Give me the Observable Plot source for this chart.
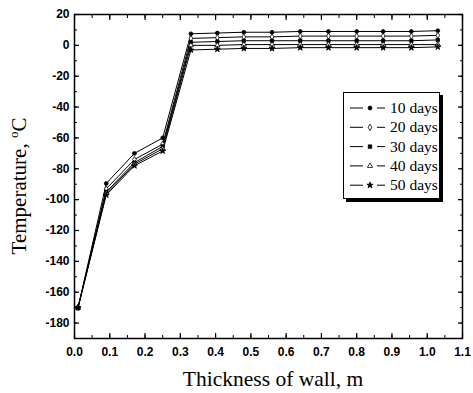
<!DOCTYPE html>
<html>
<head>
<meta charset="utf-8">
<script src="https://cdn.jsdelivr.net/npm/d3@7"></script>
<script src="https://cdn.jsdelivr.net/npm/@observablehq/plot@0.6"></script>
<style>
  html, body { margin: 0; padding: 0; background: #fff; }
  #wrap { position: relative; width: 473px; height: 393px; }
  #legend { position: absolute; left: 343px; top: 92px; width: 97px; height: 107px;
    border: 1px solid #000; background: #fff; box-shadow: 3px 3px 0 #000; box-sizing: border-box; }
  #legend svg { display: block; }
</style>
</head>
<body>
<div id="wrap"></div>
<script>
// Thickness of wall (m)
const thickness = [0.01, 0.09, 0.17, 0.25, 0.33, 0.405, 0.48, 0.56, 0.64, 0.72, 0.80, 0.875, 0.955, 1.03];
// Temperature (°C) per series
const days10 = [-170, -89.5, -70, -60, 7.5, 8, 8.5, 8.5, 9, 9, 9, 9, 9, 9.5];
const days20 = [-170, -93, -74, -64, 4.5, 5, 5.5, 5.5, 6, 6, 6, 6, 6, 6.5];
const days30 = [-170, -95, -76, -65.5, 2, 2.5, 3, 3, 3, 3, 3, 3, 3, 3.5];
const days40 = [-170, -96, -77, -67, 0, 0, 0.5, 0.5, 0.5, 0.5, 0.5, 0.5, 0.5, 0.5];
const days50 = [-170, -97, -78, -68.5, -3, -2.5, -2, -2, -1.5, -1.5, -1.5, -1.5, -1.5, -1];
const seriesNames = ["10 days", "20 days", "30 days", "40 days", "50 days"];
const xTicks = [0, 0.1, 0.2, 0.3, 0.4, 0.5, 0.6, 0.7, 0.8, 0.9, 1.0, 1.1];
const yTicks = [20, 0, -20, -40, -60, -80, -100, -120, -140, -160, -180];

const seriesValues = [days10, days20, days30, days40, days50];
const symbols = ["circle", "diamond", "square", "triangle", "star"];
const d3symbols = [d3.symbolCircle, d3.symbolDiamond, d3.symbolSquare, d3.symbolTriangle, d3.symbolStar];
const fills = ["black", "white", "black", "white", "black"];
const rows = seriesNames.map((name, k) => thickness.map((x, i) => ({x, y: seriesValues[k][i], s: name})));
const all = rows.flat();

const xMinor = d3.range(0, 1.1001, 0.05);
const yMinor = d3.range(-190, 20.001, 10);
const fmt = d => String(d);

const marks = [
  Plot.line(all, {x: "x", y: "y", z: "s", stroke: "black", strokeWidth: 1}),
  ...rows.map((r, k) => Plot.dot(r, {x: "x", y: "y", symbol: symbols[k], fill: fills[k], stroke: "black", strokeWidth: 0.8, r: 1.9})),
  Plot.frame({stroke: "black", strokeWidth: 1.5}),
  Plot.axisX({anchor: "bottom", ticks: xTicks, tickSize: -5, tickPadding: 14, tickFormat: d => d.toFixed(1), label: null, strokeWidth: 1.2}),
  Plot.axisX({anchor: "bottom", ticks: xMinor, tickSize: -3, tickFormat: () => "", label: null}),
  Plot.axisX({anchor: "top", ticks: xTicks, tickSize: -5, tickFormat: () => "", label: null, strokeWidth: 1.2}),
  Plot.axisX({anchor: "top", ticks: xMinor, tickSize: -3, tickFormat: () => "", label: null}),
  Plot.axisY({anchor: "left", ticks: yTicks, tickSize: -5, tickPadding: 10, tickFormat: fmt, label: null, strokeWidth: 1.2}),
  Plot.axisY({anchor: "left", ticks: yMinor, tickSize: -3, tickFormat: () => "", label: null}),
  Plot.axisY({anchor: "right", ticks: yTicks, tickSize: -5, tickFormat: () => "", label: null, strokeWidth: 1.2}),
  Plot.axisY({anchor: "right", ticks: yMinor, tickSize: -3, tickFormat: () => "", label: null})
];

const chart = Plot.plot({
  width: 473, height: 393,
  marginLeft: 74, marginRight: 11, marginTop: 14, marginBottom: 55,
  x: {domain: [0, 1.1]},
  y: {domain: [-190, 20]},
  style: {fontFamily: "'Liberation Sans', Arial, sans-serif", fontSize: "12px", fontWeight: "bold", color: "black", background: "white"},
  marks
});

const serif = "'Liberation Serif', 'Times New Roman', serif";
const svg = d3.select(chart);
svg.append("text")
  .attr("x", 273).attr("y", 386)
  .attr("text-anchor", "middle").attr("fill", "black")
  .style("font-family", serif)
  .style("font-size", "21.5px").style("font-weight", "normal")
  .text("Thickness of wall, m");
const yt = svg.append("text")
  .attr("transform", "translate(26,186) rotate(-90)")
  .attr("text-anchor", "middle").attr("fill", "black")
  .style("font-family", serif)
  .style("font-size", "21px").style("font-weight", "normal");
yt.append("tspan").text("Temperature, ");
yt.append("tspan").attr("dy", -8).style("font-size", "13px").text("o");
yt.append("tspan").attr("dy", 8).text("C");

const wrap = document.getElementById("wrap");
wrap.appendChild(chart);

// Legend
const legend = document.createElement("div");
legend.id = "legend";
wrap.appendChild(legend);
const ls = d3.select(legend).append("svg").attr("width", 95).attr("height", 105);
seriesNames.forEach((name, k) => {
  const y = 15 + k * 19.3;
  const g = ls.append("g").attr("transform", `translate(0,${y})`);
  g.append("line").attr("x1", 6).attr("x2", 19).attr("y1", 0).attr("y2", 0).attr("stroke", "black").attr("stroke-width", 1);
  g.append("line").attr("x1", 33).attr("x2", 41).attr("y1", 0).attr("y2", 0).attr("stroke", "black").attr("stroke-width", 1);
  g.append("path").attr("d", d3.symbol(d3symbols[k], 12)())
    .attr("transform", "translate(26,0)").attr("fill", fills[k]).attr("stroke", "black").attr("stroke-width", 0.8);
  g.append("text").attr("x", 46).attr("y", 5).attr("fill", "black")
    .style("font-family", serif).style("font-size", "15.5px")
    .text(name);
});
</script>
</body>
</html>
